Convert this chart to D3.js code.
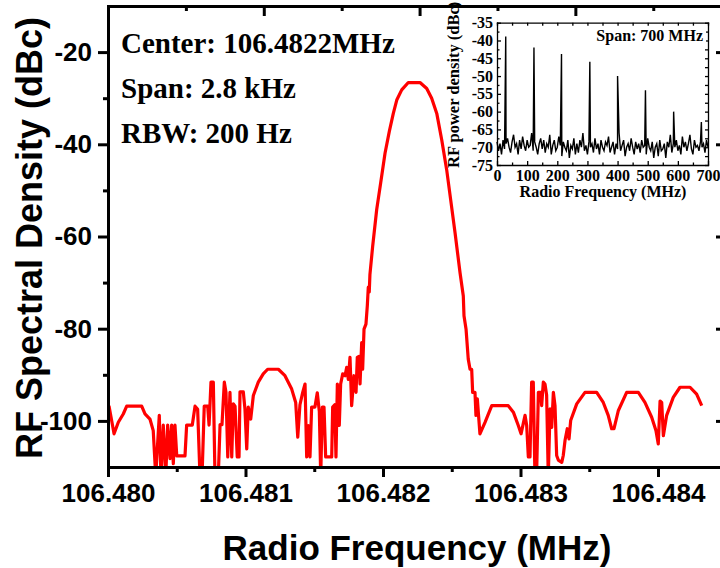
<!DOCTYPE html>
<html>
<head>
<meta charset="utf-8">
<script src="https://cdn.jsdelivr.net/npm/d3@7"></script>
<style>
  body { margin: 0; background: #fff; }
  svg { display: block; }
</style>
</head>
<body>
<script>
// main trace: offset from 106.480 MHz in Hz, and level in dBc
var baseMHz = 106.480;
var offsetHz = [
  7, 44, 75, 111, 136, 245, 269, 305, 329, 347,
  373, 385, 402, 420, 434, 451, 463, 475, 487, 500,
  560, 572, 613, 633, 652, 669, 684, 700, 725, 735,
  749, 766, 778, 802, 815, 829, 846, 858, 871, 887,
  900, 911, 924, 940, 953, 960, 984, 996, 1009, 1020,
  1038, 1057, 1093, 1129, 1161, 1239, 1287, 1336, 1365, 1380,
  1396, 1416, 1433, 1445, 1457, 1469, 1481, 1505, 1522, 1537,
  1547, 1559, 1571, 1583, 1627, 1634, 1649, 1658, 1668, 1682,
  1692, 1707, 1724, 1736, 1748, 1760, 1772, 1789, 1804, 1813,
  1825, 1833, 1845, 1852, 1862, 1876, 1886, 1893, 1900, 1905,
  1925, 1954, 1983, 2015, 2046, 2075, 2100, 2136, 2184, 2269,
  2318, 2354, 2391, 2427, 2463, 2492, 2524, 2560, 2584, 2589,
  2604, 2620, 2633, 2645, 2652, 2669, 2676, 2686, 2705, 2742,
  2791, 2911, 2948, 2984, 3004, 3020, 3033, 3045, 3057, 3069,
  3081, 3093, 3105, 3117, 3130, 3147, 3154, 3166, 3178, 3190,
  3202, 3215, 3227, 3239, 3251, 3263, 3275, 3300, 3311, 3324,
  3340, 3353, 3365, 3409, 3469, 3554, 3602, 3638, 3663, 3680,
  3711, 3772, 3857, 3905, 3954, 3985, 4002, 4015, 4027, 4039,
  4063, 4111, 4160, 4233, 4281, 4318
];
var levelDbc = [
  -96.7, -102.8, -100.3, -98.5, -96.8, -96.8, -98.5, -99.6, -102.1, -112,
  -98.8, -112, -100.9, -112, -100.9, -108.2, -100.9, -109.3, -100.9, -107.6,
  -107.6, -100.9, -100.9, -96.8, -97.5, -112, -112, -96.8, -96.8, -100.9,
  -91.6, -91.6, -112, -112, -100.8, -100.8, -91.6, -93.8, -107.8, -93.8,
  -107.8, -96.3, -96.8, -107.8, -107.8, -93.7, -93.7, -97.4, -106.1, -97,
  -99.6, -94.5, -91.6, -89.8, -88.8, -88.8, -90.2, -93.1, -96, -103.5,
  -96.5, -93.8, -92, -107.8, -101, -107.8, -97, -97, -93.9, -98,
  -112, -97, -97, -107.8, -107.8, -97, -96.5, -107.8, -92, -101,
  -92, -89.8, -90.2, -88.4, -91, -86.2, -96.7, -90.2, -93.8, -86.2,
  -86, -92, -83, -88.8, -80.1, -79, -75, -71, -72, -68.2,
  -62.1, -54.2, -48.4, -41.9, -37.2, -33.3, -30.4, -28.2, -26.6, -26.6,
  -27.9, -30, -33.3, -39, -45.5, -52, -59.2, -67.8, -72.9, -77.2,
  -80.1, -86.6, -88.8, -88.8, -93.8, -93.8, -98.8, -95.2, -102.8, -100.3,
  -96.7, -96.7, -98.1, -101, -102.8, -100.6, -98.8, -101, -107.8, -107.8,
  -91.6, -91.6, -112, -112, -93.8, -93.8, -96.7, -91.6, -92, -94.4,
  -112, -97.4, -101.4, -93.8, -96.7, -107.5, -108.5, -109, -107.5, -104.2,
  -101.7, -103.9, -99.9, -96.3, -93.8, -93.8, -96, -98.8, -101.7, -101.7,
  -97.8, -93.8, -93.8, -96, -99.2, -102.1, -105, -95.7, -96, -103.2,
  -98.8, -94.9, -92.7, -92.7, -94.2, -96.7
];
var xTicksMain = [106.480, 106.481, 106.482, 106.483, 106.484];
var yTicksMain = [-20, -40, -60, -80, -100];
var notes = ["Center: 106.4822MHz", "Span: 2.8 kHz", "RBW: 200 Hz"];

// inset: comb lines over the noise floor, 0..700 MHz
var insetNoiseStep = 5;
var insetNoise = [
  -68.5, -71, -69, -72, -68, -70.5, -69, -67.5, -70, -71.5,
  -68.5, -66.5, -70, -69, -72, -68, -70.5, -67, -69.5, -71,
  -68, -70, -69.5, -66, -71, -68.5, -70, -72, -69, -67.5,
  -70.5, -68, -71.5, -69, -70, -66.5, -72, -69.5, -68, -71,
  -70, -67, -69.5, -72.5, -68.5, -70, -71, -68, -73, -69.5,
  -70.5, -67.5, -72, -69, -71.5, -68, -70, -66, -71, -69.5,
  -72, -68.5, -70, -69, -71.5, -67.5, -70.5, -69, -72, -68,
  -70, -71, -68.5, -69.5, -67, -71.5, -70, -68.5, -72, -69,
  -70.5, -66, -71, -69.5, -68, -72.5, -70, -69, -71, -67.5,
  -70, -72, -68.5, -70.5, -69, -71.5, -68, -70, -69.5, -72,
  -67.5, -70, -71, -68.5, -73, -70, -69, -72.5, -68, -71,
  -70.5, -69, -73, -68.5, -70, -66.5, -71.5, -69, -70, -68,
  -71, -69.5, -72, -67, -70, -68.5, -71, -69, -66.5, -70.5,
  -72, -68, -70, -69.5, -71, -68.5, -70, -69, -71.5, -68,
  -70
];
var combMHz = [29, 122.6, 214, 308, 400, 492.5, 586, 678];
var combDbc = [-38.9, -42, -43.8, -46, -50, -54, -60, -62.9];

var sans = "'Liberation Sans', Arial, sans-serif",
  serif = "'Liberation Serif', 'Times New Roman', serif";

// plain hyphen for negative labels, like the original plot
var plain = function (d) { return String(d); };

var svg = d3.select("body").append("svg")
  .attr("width", 720)
  .attr("height", 568);

var x = d3.scaleLinear().domain([baseMHz, baseMHz + 0.00448]).range([108, 724]);
var y = d3.scaleLinear().domain([-110, -10]).range([467, 6]);

var main = offsetHz.map(function (d, i) {
  return { f: baseMHz + d / 1e6, p: levelDbc[i] };
});

svg.append("clipPath").attr("id", "plotclip")
  .append("rect")
  .attr("x", 108).attr("y", 6).attr("width", 616).attr("height", 461);

var line = d3.line()
  .x(function (d) { return x(d.f); })
  .y(function (d) { return y(d.p); });

svg.append("path")
  .datum(main)
  .attr("clip-path", "url(#plotclip)")
  .attr("fill", "none")
  .attr("stroke", "#ff0000")
  .attr("stroke-width", 3.2)
  .attr("stroke-linejoin", "round")
  .attr("d", line);

function style(g, sw) {
  g.selectAll("path, line").attr("stroke", "#000").attr("stroke-width", sw);
  g.select(".domain").attr("stroke-linecap", "square");
}

// bottom axis
var gx = svg.append("g").attr("transform", "translate(0,467)")
  .call(d3.axisBottom(x).tickValues(xTicksMain).tickSize(10).tickSizeOuter(0)
    .tickPadding(7).tickFormat(d3.format(".3f")));
svg.append("g").attr("transform", "translate(0,467)")
  .call(d3.axisBottom(x).tickValues(d3.range(0, 4).map(function (k) { return 106.4805 + k * 0.001; }))
    .tickSize(5).tickFormat(""))
  .call(function (g) { g.select(".domain").remove(); style(g, 3); });

// left axis
var gy = svg.append("g").attr("transform", "translate(108,0)")
  .call(d3.axisLeft(y).tickValues(yTicksMain).tickSize(10).tickSizeOuter(0)
    .tickPadding(6).tickFormat(plain));
svg.append("g").attr("transform", "translate(108,0)")
  .call(d3.axisLeft(y).tickValues([-30, -50, -70, -90]).tickSize(5).tickFormat(""))
  .call(function (g) { g.select(".domain").remove(); style(g, 3); });

[gx, gy].forEach(function (g) {
  style(g, 3);
  g.selectAll("text")
    .attr("font-family", sans)
    .attr("font-weight", "bold")
    .attr("font-size", 26)
    .attr("fill", "#000");
});

// top axis, inward ticks
var topStep = 0.0005665;
svg.append("g").attr("transform", "translate(0,6)")
  .call(d3.axisBottom(x).tickValues([2, 4, 6].map(function (k) { return baseMHz + k * topStep; }))
    .tickSize(10).tickSizeOuter(0).tickFormat(""))
  .call(function (g) { style(g, 3); });
svg.append("g").attr("transform", "translate(0,6)")
  .call(d3.axisBottom(x).tickValues([1, 3, 5, 7].map(function (k) { return baseMHz + k * topStep; }))
    .tickSize(5).tickFormat(""))
  .call(function (g) { g.select(".domain").remove(); style(g, 3); });

// right axis, inward ticks
svg.append("g").attr("transform", "translate(724,0)")
  .call(d3.axisLeft(y).tickValues(yTicksMain).tickSize(8).tickSizeOuter(0).tickFormat(""))
  .call(function (g) { style(g, 3); });

// axis titles
svg.append("text")
  .attr("x", 417).attr("y", 560)
  .attr("text-anchor", "middle")
  .attr("font-family", sans).attr("font-weight", "bold").attr("font-size", 35)
  .text("Radio Frequency (MHz)");
svg.append("text")
  .attr("transform", "translate(42,238) rotate(-90)")
  .attr("text-anchor", "middle")
  .attr("font-family", sans).attr("font-weight", "bold").attr("font-size", 36)
  .text("RF Spectral Density (dBc)");

// notes
svg.selectAll("text.note")
  .data(notes)
  .enter().append("text")
  .attr("class", "note")
  .attr("x", 121)
  .attr("y", function (d, i) { return 53 + i * 45; })
  .attr("font-family", serif).attr("font-weight", "bold").attr("font-size", 29)
  .text(function (d) { return d; });

// ---- inset ----
var ix = d3.scaleLinear().domain([0, 700]).range([497, 708]);
var iy = d3.scaleLinear().domain([-75, -35]).range([165, 22.7]);

var inset = insetNoise.map(function (p, i) { return { f: i * insetNoiseStep, p: p }; });
combMHz.forEach(function (f, i) { inset.push({ f: f, p: combDbc[i] }); });
inset.sort(function (a, b) { return a.f - b.f; });

svg.append("path")
  .datum(inset)
  .attr("fill", "none")
  .attr("stroke", "#000")
  .attr("stroke-width", 1.4)
  .attr("d", d3.line().x(function (d) { return ix(d.f); }).y(function (d) { return iy(d.p); }));

var ixAxis = svg.append("g").attr("transform", "translate(0,165)")
  .call(d3.axisBottom(ix).tickValues(d3.range(0, 701, 100)).tickSize(-4).tickSizeOuter(0).tickPadding(5));
svg.append("g").attr("transform", "translate(0,165)")
  .call(d3.axisBottom(ix).tickValues(d3.range(50, 700, 100)).tickSize(-2.5).tickFormat(""))
  .call(function (g) { g.select(".domain").remove(); style(g, 1.3); });
var iyAxis = svg.append("g").attr("transform", "translate(497,0)")
  .call(d3.axisLeft(iy).tickValues(d3.range(-75, -34, 5)).tickSize(-4).tickSizeOuter(0)
    .tickPadding(4).tickFormat(plain));
svg.append("g").attr("transform", "translate(497,0)")
  .call(d3.axisLeft(iy).tickValues(d3.range(-72.5, -35, 5)).tickSize(-2.5).tickFormat(""))
  .call(function (g) { g.select(".domain").remove(); style(g, 1.3); });
svg.append("g").attr("transform", "translate(0,22.7)")
  .call(d3.axisBottom(ix).tickValues(d3.range(0, 701, 50)).tickSize(3).tickSizeOuter(0).tickFormat(""))
  .call(function (g) { style(g, 1.3); });
svg.append("g").attr("transform", "translate(708,0)")
  .call(d3.axisLeft(iy).tickValues(d3.range(-75, -34, 2.5)).tickSize(3).tickSizeOuter(0).tickFormat(""))
  .call(function (g) { style(g, 1.3); });

[ixAxis, iyAxis].forEach(function (g) {
  style(g, 1.3);
  g.selectAll("text")
    .attr("font-family", serif)
    .attr("font-weight", "bold")
    .attr("font-size", 16)
    .attr("fill", "#000");
});

svg.append("rect")
  .attr("x", 594).attr("y", 27).attr("width", 112).attr("height", 18)
  .attr("fill", "#fff");
svg.append("text")
  .attr("x", 703).attr("y", 41)
  .attr("text-anchor", "end")
  .attr("font-family", serif).attr("font-weight", "bold").attr("font-size", 16)
  .text("Span: 700 MHz");

svg.append("text")
  .attr("x", 603).attr("y", 197)
  .attr("text-anchor", "middle")
  .attr("font-family", serif).attr("font-weight", "bold").attr("font-size", 16)
  .text("Radio Frequency (MHz)");
svg.append("text")
  .attr("transform", "translate(459,168) rotate(-90)")
  .attr("text-anchor", "start")
  .attr("font-family", serif).attr("font-weight", "bold").attr("font-size", 16.5)
  .text("RF power density (dBc)");
</script>
</body>
</html>
